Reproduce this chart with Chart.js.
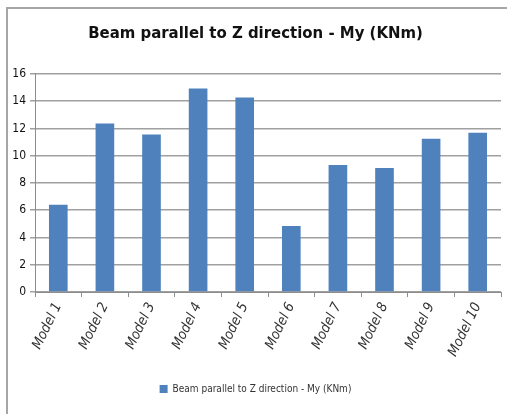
<!DOCTYPE html>
<html lang="en">
<head>
    <meta charset="UTF-8">
    <title>Beam parallel to Z direction - My</title>
    <script src="https://cdn.jsdelivr.net/npm/chart.js"></script>
    <style type="text/css">
        body{
            margin: 0;
            background: #fff;
        }
        .marco{
            position: relative;
            width: 507px;
            height: 414px;
        }
        .borde{
            position: absolute;
            left: 6px;
            top: 7px;
            right: 0;
            bottom: 0;
            border-left: 2px solid #a6a6a6;
            border-top: 2px solid #a6a6a6;
        }
    </style>
</head>
<body>
    <div class="marco">
        <div class="borde"></div>
        <canvas id="myChart" width="507" height="414"></canvas>
    </div>
    <script>
        // categorias (eje x)
        const modelos = ['Model 1', 'Model 2', 'Model 3', 'Model 4', 'Model 5',
                         'Model 6', 'Model 7', 'Model 8', 'Model 9', 'Model 10'];
        // valores My (KNm)
        const momentos = [6.4, 12.37, 11.56, 14.93, 14.27, 4.85, 9.32, 9.1, 11.24, 11.68];
        // marcas del eje y
        const ticksY = [0, 2, 4, 6, 8, 10, 12, 14, 16];
        const titulo = 'Beam parallel to Z direction - My (KNm)';

        const fuente = "'DejaVu Sans Condensed', sans-serif";

        const data = {
            labels: modelos,
            datasets: [{
                label: titulo,
                data: momentos,
                backgroundColor: '#4f81bd',
                borderWidth: 0,
                barPercentage: 0.4,
                categoryPercentage: 1.0
            }]
        };

        const config = {
            type: 'bar',
            data: data,
            options: {
                responsive: false,
                animation: false,
                layout: {
                    padding: {left: 10, right: 6, top: 0, bottom: 10}
                },
                plugins: {
                    title: {
                        display: true,
                        text: titulo,
                        color: '#111',
                        font: {family: fuente, size: 16.6, weight: 'bold'},
                        padding: {top: 24, bottom: 30}
                    },
                    legend: {
                        position: 'bottom',
                        labels: {
                            boxWidth: 8,
                            boxHeight: 8,
                            color: '#333',
                            font: {family: fuente, size: 10}
                        }
                    },
                    tooltip: {enabled: false}
                },
                scales: {
                    x: {
                        grid: {
                            offset: true,
                            drawOnChartArea: false,
                            tickLength: 5,
                            color: '#8c8c8c'
                        },
                        border: {color: '#8c8c8c'},
                        ticks: {
                            minRotation: 64,
                            maxRotation: 64,
                            color: '#333',
                            font: {family: fuente, size: 14, style: 'italic'}
                        },
                        afterFit: function(scale){ scale.height = 82; }
                    },
                    y: {
                        min: 0,
                        max: 16,
                        afterBuildTicks: function(scale){
                            scale.ticks = ticksY.map(v => ({value: v}));
                        },
                        grid: {
                            color: '#a0a0a0',
                            lineWidth: 1.5,
                            tickLength: 5
                        },
                        border: {color: '#8c8c8c'},
                        ticks: {
                            padding: 4,
                            color: '#111',
                            font: {family: fuente, size: 12}
                        },
                        // el eje ocupa 25px mas los 10px de margen izquierdo
                        afterFit: function(scale){ scale.width = 25; }
                    }
                }
            }
        };
        const myChart = new Chart(document.getElementById('myChart'), config);
    </script>
</body>
</html>
